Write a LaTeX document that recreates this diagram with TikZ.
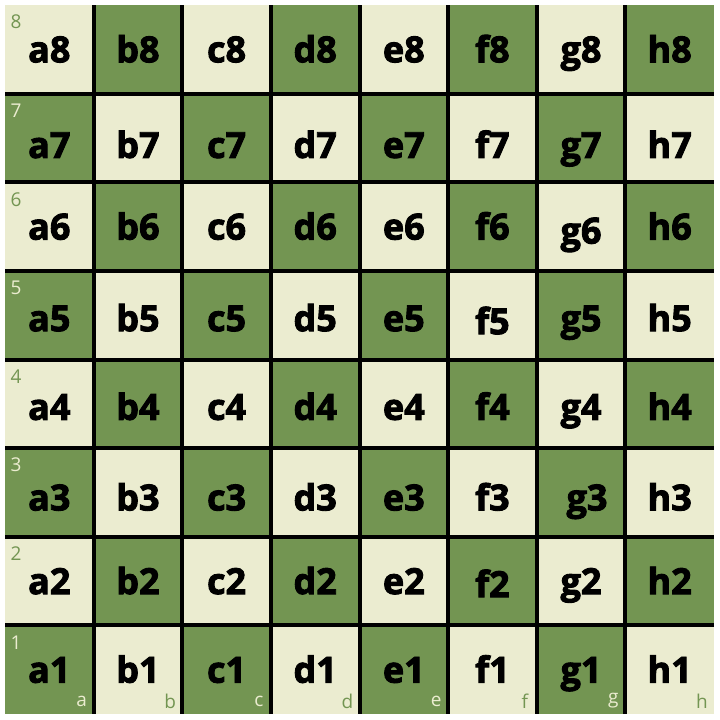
\documentclass[tikz,border=0pt]{standalone}
\usepackage{fontspec}
\setmainfont{Open Sans}[BoldFeatures={FakeBold=2.5}]
\definecolor{lightsq}{RGB}{235,236,208}
\definecolor{darksq}{RGB}{115,149,82}
\begin{document}
\begin{tikzpicture}[x=1pt,y=-1pt,
  sq/.style={minimum size=88.625pt, inner sep=0pt, outer sep=0pt, draw=none},
  lbl/.style={font=\bfseries\fontsize{36}{36}\selectfont, inner sep=0pt, anchor=base, text=black},
  coordlbl/.style={font=\fontsize{19}{19}\selectfont, inner sep=0pt},
  gridline/.style={line width=4pt, black}]
\useasboundingbox[fill=white] (0,0) rectangle (720,720);
\def\S{88.625}
\foreach \f [count=\i from 0] in {a,b,c,d,e,f,g,h} {
  \foreach \r/\dy in {1/0,2/0,3/5,4/3,5/3,6/0,7/7,8/0} {
    \pgfmathtruncatemacro\p{mod(\i+\r,2)}
    \ifodd\p \def\bg{darksq}\def\fg{lightsq}\else \def\bg{lightsq}\def\fg{darksq}\fi
    \pgfmathsetmacro\cx{5+\S*(\i+0.5)}
    \pgfmathsetmacro\cy{5+\S*(8-\r+0.5)}
    \node[sq, fill=\bg] (sq-\f\r) at (\cx,\cy) {};
    \def\ox{0}\def\oy{0}
    \ifnum\i=6 \ifnum\r=3 \def\ox{6}\fi \ifnum\r=6 \def\oy{4}\fi\fi
    \ifnum\i=5 \ifnum\r=5 \def\oy{3}\fi \ifnum\r=2 \def\oy{3}\fi\fi
    \node[lbl] (t-\f\r) at (\cx+\ox,\cy+13+\dy+\oy) {\f\r};
    \ifnum\i=0
      \node[coordlbl, text=\fg] (rk-\r) at (\cx-\S/2+11,\cy-\S/2+17) {\r};
    \fi
    \ifnum\r=1
      \node[coordlbl, text=\fg] (fl-\f) at (\cx+\S/2-12,\cy+\S/2-13) {\f};
    \fi
  }
}
% grid lines
\foreach \f in {b,c,d,e,f,g,h} {
  \draw[gridline] (sq-\f8.north west) -- (sq-\f1.south west);
}
\foreach \r in {1,...,7} {
  \draw[gridline] (sq-a\r.north west) -- (sq-h\r.north east);
}
\end{tikzpicture}
\end{document}
